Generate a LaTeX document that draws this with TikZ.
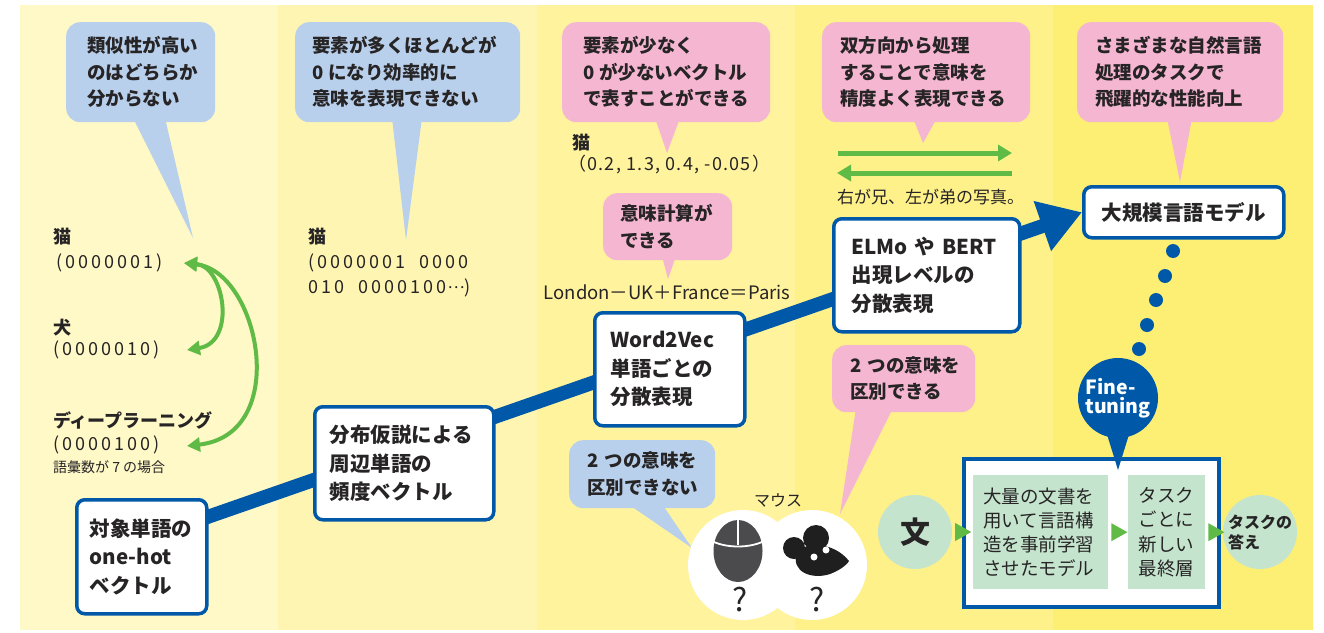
\documentclass[tikz,border=0pt]{standalone}
\usepackage{fontspec}
\setmainfont{Noto Sans CJK JP}
\newfontfamily\vecfont{Noto Sans CJK JP}[LetterSpace=17]
\newfontfamily\numfont{Noto Sans CJK JP}[LetterSpace=7]
\usetikzlibrary{arrows.meta,calc}
\hbadness=10000
\hfuzz=300pt
\definecolor{ink}{RGB}{38,36,37}
\definecolor{bandA}{RGB}{255,248,199}
\definecolor{bandB}{RGB}{255,245,178}
\definecolor{bandC}{RGB}{255,243,157}
\definecolor{bandD}{RGB}{254,241,137}
\definecolor{bandE}{RGB}{253,239,115}
\definecolor{qblue}{RGB}{185,208,236}
\definecolor{qpink}{RGB}{245,182,209}
\definecolor{deepblue}{RGB}{0,88,168}
\definecolor{leaf}{RGB}{96,187,70}
\definecolor{mint}{RGB}{197,228,205}
\definecolor{mousegray}{RGB}{75,75,77}
\newcommand\fBub{\bfseries\fontsize{18.5}{26.5}\selectfont}
\newcommand\fBox{\bfseries\fontsize{20.5}{28.5}\selectfont}
\newcommand\fLab{\fontsize{18}{22}\selectfont}
\newcommand\fLabB{\bfseries\fontsize{18}{22}\selectfont}
\newcommand\midDots{\raisebox{5pt}{\fontsize{16}{16}\selectfont\hspace{1pt}…}}
\pgfdeclarelayer{paper}
\pgfdeclarelayer{track}
\pgfsetlayers{paper,track,main}

\begin{document}
\begin{tikzpicture}[x=1pt,y=-1pt,
  every node/.style={text=ink, inner sep=0pt},
  bubble/.style={rounded corners=14pt, anchor=north west, align=left, font=\fBub},
  qb/.style={bubble, fill=qblue},
  qp/.style={bubble, fill=qpink},
  stage/.style={draw=deepblue, line width=3.5pt, fill=white, rounded corners=8pt,
    anchor=north west, align=left, font=\fBox},
  word/.style={anchor=west, font=\fLabB},
  vec/.style={anchor=west, font=\vecfont\fLab},
  biarrow/.style={leaf, line width=5pt, -{Triangle[length=14pt,width=16pt]}},
  hop/.style={leaf, line width=4pt, {Triangle[length=13pt,width=14pt]}-{Triangle[length=13pt,width=14pt]}},
  flowline/.style={deepblue, line width=14pt, -{Triangle[length=42pt,width=50pt]}},
  mintbox/.style={fill=mint, anchor=north west, font=\fontsize{18.5}{24.2}\selectfont,
    minimum height=114pt},
]
\useasboundingbox (0,0) rectangle (1324,632);

% paper and the five stage bands
\begin{pgfonlayer}{paper}
\fill[white] (0,0) rectangle (1324,632);
\fill[bandA] (20,5) rectangle (278,630);
\fill[bandB] (278,5) rectangle (537,630);
\fill[bandC] (537,5) rectangle (795,630);
\fill[bandD] (795,5) rectangle (1053,630);
\fill[bandE] (1053,5) rectangle (1313,630);
\end{pgfonlayer}

% speech bubbles
\coordinate (b1tip) at (193,238);
\fill[qblue] (133,118) -- (b1tip) -- (165,118) -- cycle;
\node[qb, minimum height=100pt, text width=107pt, inner xsep=21pt] (b1) at (66,22)
  {類似性が高い\\のはどちらか\\分からない};

\coordinate (b2tip) at (406,240);
\fill[qblue] (392,118) -- (b2tip) -- (422,118) -- cycle;
\node[qb, minimum height=100pt, text width=191pt, inner xsep=17pt] (b2) at (295,22)
  {要素が多くほとんどが\\0\hspace{5pt}になり効率的に\\意味を表現できない};

\coordinate (b3tip) at (667,153);
\fill[qpink] (655,118) -- (b3tip) -- (680,118) -- cycle;
\node[qp, minimum height=100pt, text width=166pt, inner xsep=21pt] (b3) at (562,22)
  {要素が少なく\\0\hspace{5pt}が少ないベクトル\\で表すことができる};

\coordinate (b4tip) at (668,279);
\fill[qpink] (662,256) -- (b4tip) -- (676,256) -- cycle;
\node[qp, minimum height=67pt, text width=95pt, inner xsep=17pt] (b4) at (603,193)
  {意味計算が\\できる};

\coordinate (b5tip) at (923,143);
\fill[qpink] (913,118) -- (b5tip) -- (937,118) -- cycle;
\node[qp, minimum height=100pt, text width=172pt, inner xsep=18pt] (b5) at (822,22)
  {双方向から処理\\することで意味を\\精度よく表現できる};

\coordinate (b6tip) at (1180,182);
\fill[qpink] (1167,118) -- (b6tip) -- (1192,118) -- cycle;
\node[qp, minimum height=100pt, text width=170pt, inner xsep=18pt] (b6) at (1077,22)
  {さまざまな自然言語\\処理のタスクで\\飛躍的な性能向上};

\coordinate (b7tip) at (692,548);
\fill[qblue] (628,504) -- (b7tip) -- (662,504) -- cycle;
\node[qb, minimum height=68pt, text width=110pt, inner xsep=18pt] (b7) at (569,440)
  {2~つの意味を\\区別できない};

\coordinate (b8tip) at (840,514);
\fill[qpink] (856,408) -- (b8tip) -- (893,408) -- cycle;
\node[qp, minimum height=67pt, text width=107pt, inner xsep=18pt] (b8) at (832,345)
  {2~つの意味を\\区別できる};

% one-hot examples
\node[word] (cat1) at (53,237) {猫};
\node[vec] (cat1v) at (56,263) {(0000001)};
\node[word] (dog1) at (53,328) {犬};
\node[vec] (dog1v) at (53,350) {(0000010)};
\node[word] (dl1) at (53,420) {ディープラーニング};
\node[vec] (dl1v) at (53,445) {(0000100)};
\node[anchor=west, font=\fontsize{14}{16}\selectfont] (vocab) at (53,467) {語彙数が 7 の場合};
\coordinate (catTip) at (184,263);
\coordinate (dogTip) at (187,350);
\coordinate (dlTip) at (187,446);
\draw[hop] (catTip) .. controls +(40,3) and +(50,-8) .. (dogTip);
\draw[hop] (catTip) .. controls +(75,8) and +(105,-12) .. (dlTip);

% frequency vector example
\node[word] (cat2) at (308,237) {猫};
\node[vec, align=left, font=\vecfont\fontsize{18}{25}\selectfont] (cat2v) at (308,275.5)
  {(0000001\hspace{14pt}0000\\010\hspace{14pt}0000100\midDots)};

% dense vector example
\node[word] (cat3) at (572,143) {猫};
\node[anchor=west, font=\numfont\fLab] (cat3v) at (568,165) {（0.2, 1.3, 0.4, -0.05）};
\node[font=\fontsize{18.5}{22}\selectfont] (analogy) at (667,292) {London－UK＋France＝Paris};

% bidirectional arrows
\coordinate (fwdA) at (838,153);
\coordinate (fwdB) at (1012,153);
\coordinate (bwdA) at (1012,173);
\coordinate (bwdB) at (837,173);
\draw[biarrow] (fwdA) -- (fwdB);
\draw[biarrow] (bwdA) -- (bwdB);
\node[anchor=west, font=\fontsize{17}{19}\selectfont] (sib) at (837,197) {右が兄、左が弟の写真。};

% stages of word representation
\node[stage, minimum height=114pt, text width=104pt, inner xsep=13pt] (s1) at (75,498)
  {対象単語の\\one-hot\\ベクトル};
\node[stage, minimum height=113pt, text width=149pt, inner xsep=15pt] (s2) at (313,405)
  {分布仮説による\\周辺単語の\\頻度ベクトル};
\node[stage, minimum height=113pt, text width=118pt, inner xsep=16pt] (s3) at (593,311)
  {Word2Vec\\単語ごとの\\分散表現};
\node[stage, minimum height=113pt, text width=150pt, inner xsep=18pt] (s4) at (832,217)
  {ELMo~や~BERT\\出現レベルの\\分散表現};
\node[stage, minimum height=51pt, minimum width=200pt, align=center] (llm) at (1082,185)
  {大規模言語モデル};

\coordinate (flowstart) at (150,537);
\begin{pgfonlayer}{track}
\draw[flowline] (flowstart) -- (llm.west);
\end{pgfonlayer}

% the two meanings of "mouse"
\fill[white] (743,565) circle (55pt) (812,565) circle (55pt);
\node[font=\fontsize{16}{18}\selectfont] (mouseword) at (778,500) {マウス};
\fill[mousegray] (738,551) ellipse [x radius=24.5pt, y radius=31pt];
\draw[white, line width=1.8pt] (738,520) -- (738,545);
\draw[white, line width=1.8pt] (714,542) .. controls (728,548) and (748,548) .. (762,542);
\fill[black!88] (816,538) circle (13pt) (794,548) circle (11pt);
\fill[black!88] (797,552) .. controls (790,572) and (812,580) .. (830,574)
  .. controls (838,571) and (846,566) .. (849,561)
  .. controls (842,552) and (830,545) .. (815,545)
  .. controls (808,545) and (800,548) .. (797,552) -- cycle;
\fill[white] (826,550) circle (3.5pt) (814,557) circle (3.5pt);
\node[font=\fontsize{32}{34}\selectfont] (q1) at (740,600) {?};
\node[font=\fontsize{32}{34}\selectfont] (q2) at (817,600) {?};

% pre-training and fine-tuning pipeline
\node[draw=deepblue, line width=3.5pt, fill=white, minimum width=255pt, minimum height=148pt,
  anchor=north west] (pre) at (962,457) {};
\node[mintbox, text width=115pt, inner xsep=10pt, align=left] (pA) at (973,475)
  {大量の文書を\\用いて言語構\\造を事前学習\\させたモデル};
\node[mintbox, text width=77pt, inner xsep=0pt, align=center] (pB) at (1128,475)
  {タスク\\ごとに\\新しい\\最終層};
\node[circle, fill=mint, minimum size=74pt, font=\bfseries\fontsize{30}{32}\selectfont] (bun) at (915,532) {文};
\node[circle, fill=mint, minimum size=74pt, align=left,
  font=\bfseries\fontsize{16}{20}\selectfont] (ans) at (1260,532) {タスクの\\答え};
\fill[leaf] ($(bun.east)+(3,-9)$) -- ($(bun.east)+(19,0)$) -- ($(bun.east)+(3,9)$) -- cycle;
\fill[leaf] ($(pA.east)+(3,-9)$) -- ($(pA.east)+(19,0)$) -- ($(pA.east)+(3,9)$) -- cycle;
\fill[leaf] ($(pB.east)+(3,-9)$) -- ($(pB.east)+(19,0)$) -- ($(pB.east)+(3,9)$) -- cycle;

\foreach \dx/\dy in {1173/251,1165/276,1156/300,1147/325,1139/349}
  \fill[deepblue] (\dx,\dy) circle (7pt);
\coordinate (fttip) at (1118,470);
\fill[deepblue] (1105,428) -- (fttip) -- (1131,428) -- cycle;
\node[circle, fill=deepblue, minimum size=80pt, text=white, align=left,
  font=\bfseries\fontsize{19.5}{18.5}\selectfont] (ft) at (1118,398) {Fine-\\tuning};
\end{tikzpicture}
\end{document}
